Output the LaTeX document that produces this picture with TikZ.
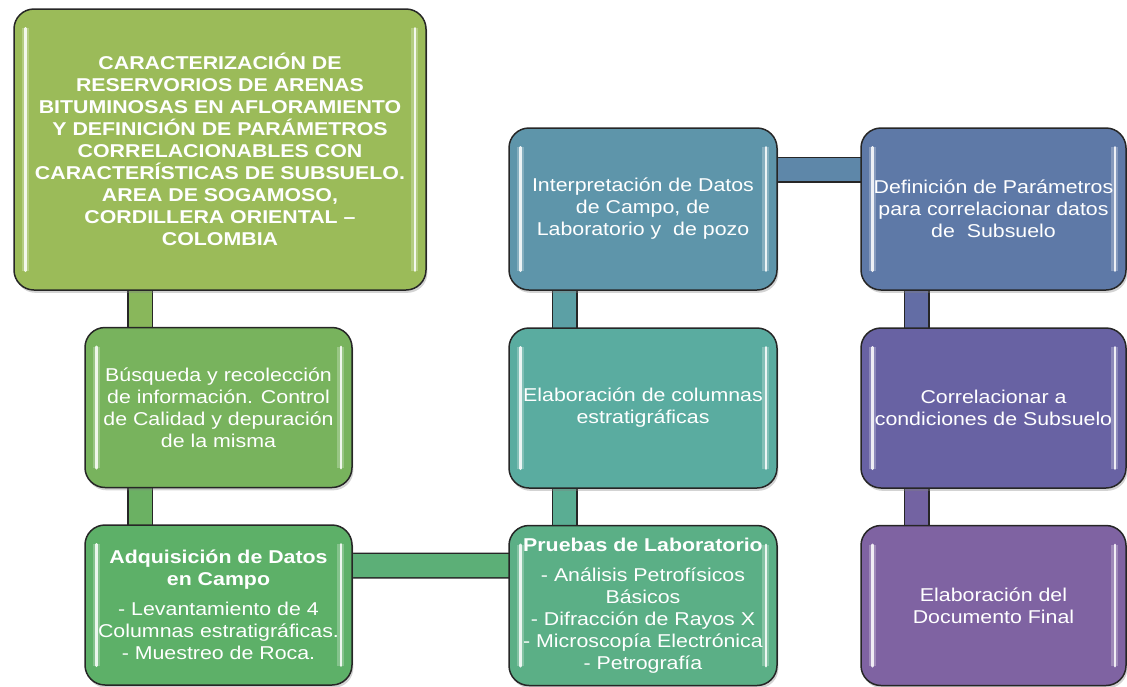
\documentclass[tikz,border=0pt]{standalone}
\usepackage{fontspec}
\setmainfont{Liberation Sans}[FakeStretch=1.15]
\usetikzlibrary{shadows,backgrounds}
\newlength\unitpx
\setlength\unitpx{0.025cm}
\definecolor{cTit}{HTML}{9BBB59}
\definecolor{cBus}{HTML}{78B35D}
\definecolor{cAdq}{HTML}{5DB068}
\definecolor{cPru}{HTML}{5BAF86}
\definecolor{cCol}{HTML}{5AACA0}
\definecolor{cInt}{HTML}{5E95AA}
\definecolor{cDef}{HTML}{5E79A7}
\definecolor{cCor}{HTML}{6862A3}
\definecolor{cDoc}{HTML}{7F63A2}
\begin{document}
\begin{tikzpicture}[x=0.025cm,y=-0.025cm]

      \tikzset{caja/.style={draw=black!85, line width=1.5\unitpx, rounded corners=20\unitpx,
                 align=center, text=white, inner sep=0pt,
                 minimum width=267\unitpx, minimum height=160\unitpx,
                 font=\fontsize{13.2}{15.6}\selectfont,
                 drop shadow={shadow xshift=1pt, shadow yshift=-2pt, opacity=.35}},
               titulo/.style={font=\fontsize{13.2}{15.6}\selectfont\bfseries},
               enlace/.style={draw=black!85, line width=1.5\unitpx, double distance=23\unitpx,
                 shorten <=-6\unitpx, shorten >=-6\unitpx},
               brillo/.style={draw=white, line width=2.5\unitpx, line cap=round, opacity=.85,
                 preaction={draw=white, line width=7\unitpx, opacity=.25}}}
      \path[use as bounding box, clip] (0,0) rectangle (1127,686);
%% Cajas
      \node[caja, titulo, fill=cTit, minimum width=412\unitpx, minimum height=281\unitpx] (tit) at (220,149.5)
        {CARACTERIZACIÓN DE\\RESERVORIOS DE ARENAS\\BITUMINOSAS EN AFLORAMIENTO\\Y DEFINICIÓN DE PARÁMETROS\\CORRELACIONABLES CON\\CARACTERÍSTICAS DE SUBSUELO.\\AREA DE SOGAMOSO,\\CORDILLERA ORIENTAL –\\COLOMBIA};
      \node[caja, fill=cBus] (bus) at (218.5,407.5)
        {Búsqueda y recolección\\de información. Control\\de Calidad y depuración\\de la misma};
      \node[caja, fill=cAdq] (adq) at (218.5,605)
        {\bfseries Adquisición de Datos\\\bfseries en Campo\\[6pt]- Levantamiento de 4\\Columnas estratigráficas.\\- Muestreo de Roca.};
      \node[caja, fill=cInt, minimum width=268\unitpx, minimum height=162\unitpx] (int) at (643,209)
        {Interpretación de Datos\\de Campo, de\\Laboratorio y\ \ de pozo};
      \node[caja, fill=cCol, minimum width=268\unitpx] (col) at (643,408)
        {Elaboración de columnas\\estratigráficas};
      \node[caja, fill=cPru, minimum width=268\unitpx] (pru) at (643,605.5)
        {\bfseries Pruebas de Laboratorio\\[6pt]- Análisis Petrofísicos\\Básicos\\- Difracción de Rayos X\\- Microscopía Electrónica\\- Petrografía};
      \node[caja, fill=cDef, minimum width=265\unitpx, minimum height=162\unitpx] (def) at (993.5,209)
        {Definición de Parámetros\\para correlacionar datos\\de\ \ Subsuelo};
      \node[caja, fill=cCor, minimum width=265\unitpx] (cor) at (993.5,408)
        {Correlacionar a\\condiciones de Subsuelo};
      \node[caja, fill=cDoc, minimum width=265\unitpx] (doc) at (993.5,605.5)
        {Elaboración del\\Documento Final};
%% Enlaces
      \begin{scope}[on background layer]
        \draw[enlace, double=cTit!50!cBus] ([xshift=-80\unitpx]tit.south) -- ([xshift=-78.5\unitpx]bus.north);
        \draw[enlace, double=cBus!50!cAdq] ([xshift=-78.5\unitpx]bus.south) -- ([xshift=-78.5\unitpx]adq.north);
        \draw[enlace, double=cAdq!50!cPru] ([yshift=39.5\unitpx]adq.east) -- ([yshift=40\unitpx]pru.west);
        \draw[enlace, double=cPru!50!cCol] ([xshift=-78.5\unitpx]pru.north) -- ([xshift=-78.5\unitpx]col.south);
        \draw[enlace, double=cCol!50!cInt] ([xshift=-78.5\unitpx]col.north) -- ([xshift=-78.5\unitpx]int.south);
        \draw[enlace, double=cInt!50!cDef] ([yshift=39.5\unitpx]int.east) -- ([yshift=39.5\unitpx]def.west);
        \draw[enlace, double=cDef!50!cCor] ([xshift=-77\unitpx]def.south) -- ([xshift=-77\unitpx]cor.north);
        \draw[enlace, double=cCor!50!cDoc] ([xshift=-77\unitpx]cor.south) -- ([xshift=-77\unitpx]doc.north);
      \end{scope}
%% Brillos
      \foreach \n in {tit,bus,adq,int,col,pru,def,cor,doc}{
        \draw[brillo] ([shift={(12,20)}]\n.north west) -- ([shift={(12,-20)}]\n.south west);
        \draw[brillo] ([shift={(-12,20)}]\n.north east) -- ([shift={(-12,-20)}]\n.south east);
      }

\end{tikzpicture}
\end{document}
